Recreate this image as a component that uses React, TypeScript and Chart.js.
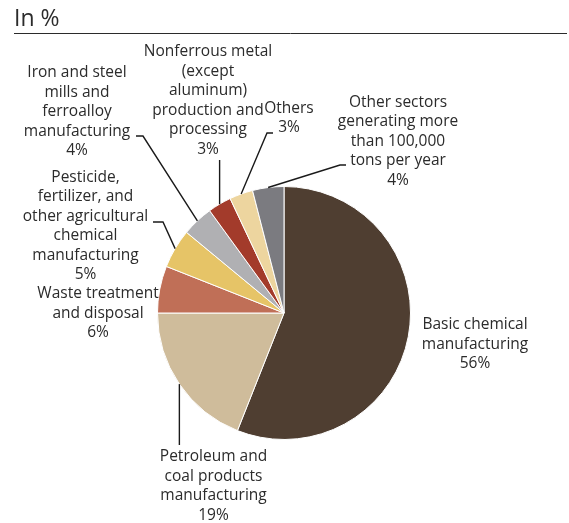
import React, { useEffect, useRef } from "react";
import { Chart, registerables } from "chart.js";

Chart.register(...registerables);

const titleText = "In %";

const categories = [
  "Basic chemical manufacturing",
  "Petroleum and coal products manufacturing",
  "Waste treatment and disposal",
  "Pesticide, fertilizer, and other agricultural chemical manufacturing",
  "Iron and steel mills and ferroalloy manufacturing",
  "Nonferrous metal (except aluminum) production and processing",
  "Others",
  "Other sectors generating more than 100,000 tons per year",
];

const values = [56, 19, 6, 5, 4, 3, 3, 4];

const labelLines: string[][] = [
  ["Basic chemical", "manufacturing"],
  ["Petroleum and", "coal products", "manufacturing"],
  ["Waste treatment", "and disposal"],
  ["Pesticide,", "fertilizer, and", "other agricultural", "chemical", "manufacturing"],
  ["Iron and steel", "mills and", "ferroalloy", "manufacturing"],
  ["Nonferrous metal", "(except", "aluminum)", "production and", "processing"],
  ["Others"],
  ["Other sectors", "generating more", "than 100,000", "tons per year"],
];

const colors = [
  "#4f3e31",
  "#cfbc9b",
  "#c06f57",
  "#e6c467",
  "#b0b0b3",
  "#a33b2b",
  "#edd59f",
  "#7b7b80",
];

// label placement (centre x, centre y of first line) and leader elbows
type Pt = { x?: number; y: number };
const labelLayout: { x: number; y: number; leader: Pt[] }[] = [
  { x: 475, y: 325, leader: [] },
  { x: 213.5, y: 457, leader: [{ y: 445 }] },
  { x: 98, y: 294, leader: [] },
  { x: 85.5, y: 177.5, leader: [{ x: 163, y: 222 }, { x: 153, y: 222 }] },
  { x: 77, y: 73, leader: [{ x: 143, y: 136 }, { x: 136, y: 136 }] },
  { x: 208, y: 52, leader: [{ y: 160 }] },
  { x: 289, y: 108.5, leader: [{ x: 267, y: 133 }, { x: 273, y: 133 }] },
  { x: 398, y: 102.5, leader: [{ x: 340, y: 165 }, { x: 346, y: 165 }] },
];

const FONT = "'Open Sans', 'DejaVu Sans', sans-serif";
const LINE_H = 19.5;

const labelPlugin = {
  id: "outLabels",
  beforeDraw(chart: any) {
    const ctx = chart.ctx;
    ctx.save();
    ctx.fillStyle = "#ffffff";
    ctx.fillRect(0, 0, chart.width, chart.height);
    ctx.fillStyle = "#2b2b2b";
    ctx.font = `23px ${FONT}`;
    ctx.textAlign = "left";
    ctx.textBaseline = "alphabetic";
    ctx.fillText(titleText, 14, 26);
    ctx.strokeStyle = "#2b2b2b";
    ctx.lineWidth = 1;
    ctx.beginPath();
    ctx.moveTo(14, 33.5);
    ctx.lineTo(567, 33.5);
    ctx.stroke();
    ctx.restore();
  },
  afterDatasetsDraw(chart: any) {
    const ctx = chart.ctx;
    const meta = chart.getDatasetMeta(0);
    ctx.save();
    meta.data.forEach((arc: any, i: number) => {
      const p = arc.getProps(["x", "y", "startAngle", "endAngle", "outerRadius"], true);
      const mid = (p.startAngle + p.endAngle) / 2;
      const ax = p.x + Math.cos(mid) * p.outerRadius;
      const ay = p.y + Math.sin(mid) * p.outerRadius;
      const lay = labelLayout[i];
      if (lay.leader.length) {
        ctx.strokeStyle = "#1a1a1a";
        ctx.lineWidth = 1.4;
        ctx.beginPath();
        ctx.moveTo(ax, ay);
        lay.leader.forEach((pt) => ctx.lineTo(pt.x === undefined ? ax : pt.x, pt.y));
        ctx.stroke();
      }
      const lines = [...labelLines[i], `${values[i]}%`];
      ctx.fillStyle = "#2b2b2b";
      ctx.font = `15.5px ${FONT}`;
      ctx.textAlign = "center";
      ctx.textBaseline = "middle";
      lines.forEach((t, k) => ctx.fillText(t, lay.x, lay.y + k * LINE_H));
    });
    ctx.restore();
  },
};

export default function App() {
  const ref = useRef<HTMLCanvasElement | null>(null);
  useEffect(() => {
    if (!ref.current) return;
    const chart = new Chart(ref.current, {
      type: "pie",
      data: {
        labels: categories,
        datasets: [
          {
            data: values,
            backgroundColor: colors,
            borderColor: "#ffffff",
            borderWidth: 1,
          },
        ],
      },
      options: {
        responsive: false,
        animation: false,
        layout: { padding: { left: 157, top: 186, right: 158, bottom: 83 } },
        plugins: {
          legend: { display: false },
          tooltip: { enabled: false },
        },
      },
      plugins: [labelPlugin],
    });
    return () => chart.destroy();
  }, []);
  return (
    <div style={{ position: "fixed", left: 0, top: 0, width: 569, height: 523, background: "#fff" }}>
      <canvas ref={ref} width={569} height={523} style={{ display: "block" }} />
    </div>
  );
}
